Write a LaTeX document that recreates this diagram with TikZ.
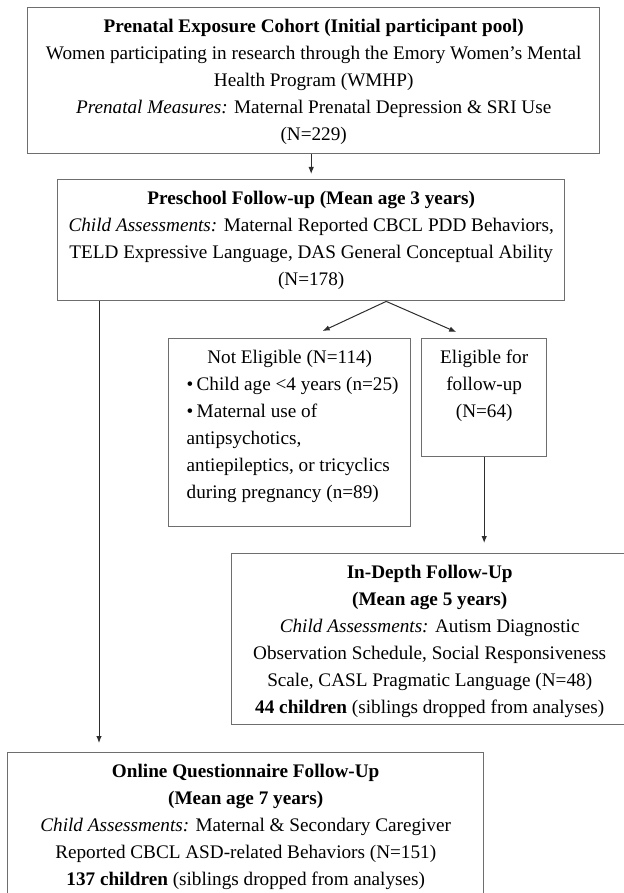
\documentclass[tikz,border=0pt]{standalone}
\usepackage{fontspec}
\setmainfont{Liberation Serif}
\usepackage{tikz}
\usetikzlibrary{arrows.meta}

\newcommand{\boxtext}[3]{\parbox[c][#2][t]{#1}{\centering\rule{0pt}{25pt}#3}}
\newcommand{\bul}{\makebox[10pt][l]{\textbullet}}

\begin{document}
\begin{tikzpicture}[x=1pt,y=-1pt]

		\definecolor{boxgray}{RGB}{110,110,110}
		\definecolor{linegray}{RGB}{45,45,45}

		\useasboundingbox (0,0) rectangle (623,893);

		\tikzstyle{edge} = [draw,-{Latex[length=7pt,width=5.5pt]},linegray,line width=1pt]
		\tikzset{box/.style = {shape=rectangle,draw=boxgray,line width=1.4pt,inner sep=0pt,anchor=north west,font=\fontsize{19.2}{27}\selectfont}}

		\node[box] (pool) at (27,7) {\boxtext{572pt}{146pt}{\textbf{Prenatal Exposure Cohort (Initial participant pool)}\\
			Women participating in research through the Emory Women’s Mental\\
			Health Program (WMHP)\\
			\textit{Prenatal Measures:} Maternal Prenatal Depression \& SRI Use\\
			(N=229)}};
		\node[box] (pre) at (57,179) {\boxtext{507pt}{121pt}{\textbf{Preschool Follow-up (Mean age 3 years)}\\
			\textit{Child Assessments:} Maternal Reported CBCL PDD Behaviors,\\
			TELD Expressive Language, DAS General Conceptual Ability\\
			(N=178)}};
		\node[box] (noel) at (168,338) {\boxtext{242pt}{188pt}{Not Eligible (N=114)\par
			\raggedright\leftskip=18pt
			\hangindent=10pt\hangafter=1 \bul Child age <4 years (n=25)\par
			\hangindent=10pt\hangafter=1 \bul Maternal use of\\ antipsychotics,\\ antiepileptics, or tricyclics\\ during pregnancy (n=89)\par}};
		\node[box] (elig) at (421,338) {\boxtext{125pt}{118pt}{Eligible for\\ follow-up\\ (N=64)}};
		\node[box] (deep) at (231,553) {\boxtext{396pt}{171pt}{\textbf{In-Depth Follow-Up}\\
			\textbf{(Mean age 5 years)}\\
			\textit{Child Assessments:} Autism Diagnostic\\
			Observation Schedule, Social Responsiveness\\
			Scale, CASL Pragmatic Language (N=48)\\
			\textbf{44 children} (siblings dropped from analyses)}};
		\node[box] (online) at (7,752) {\boxtext{476pt}{150pt}{\textbf{Online Questionnaire Follow-Up}\\
			\textbf{(Mean age 7 years)}\\
			\textit{Child Assessments:} Maternal \& Secondary Caregiver\\
			Reported CBCL ASD-related Behaviors (N=151)\\
			\textbf{137 children} (siblings dropped from analyses)}};

		\coordinate (fork) at ([xshift=75pt]pre.south);
		\coordinate (drop) at ([xshift=42pt]pre.south west);

		\draw[edge, shorten >=5pt] (pre.north |- pool.south) to (pre.north);
		\draw[edge] (fork) to ([xshift=33pt,yshift=7pt]noel.north);
		\draw[edge] (fork) to ([xshift=-28pt,yshift=6pt]elig.north);
		\draw[edge, shorten >=10pt] (elig.south) to (elig.south |- deep.north);
		\draw[edge, shorten >=9pt] (drop) to (drop |- online.north);
		\end{tikzpicture}
\end{document}
